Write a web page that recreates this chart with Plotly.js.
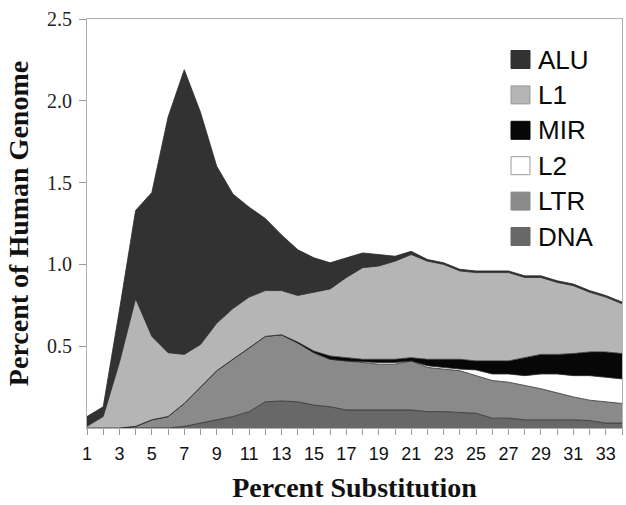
<!DOCTYPE html>
<html>
<head>
<meta charset="utf-8">
<script src="https://cdn.plot.ly/plotly-3.0.1.min.js"></script>
<style>html,body{margin:0;padding:0;background:#fff;}#chart{width:626px;height:505px;}</style>
</head>
<body>
<div id="chart"></div>
<script>
// Percent substitution (x categories)
var substitution = [1,2,3,4,5,6,7,8,9,10,11,12,13,14,15,16,17,18,19,20,21,22,23,24,25,26,27,28,29,30,31,32,33,34];
var xTickLabels = ["1","","3","","5","","7","","9","","11","","13","","15","","17","","19","","21","","23","","25","","27","","29","","31","","33",""];

// Percent of human genome per repeat family (stacked, bottom to top)
var DNA = [0,0,0,0,0,0,0.01,0.03,0.05,0.07,0.10,0.16,0.165,0.16,0.14,0.13,0.11,0.11,0.11,0.11,0.11,0.10,0.10,0.095,0.09,0.06,0.06,0.05,0.05,0.05,0.05,0.045,0.03,0.03];
var LTR = [0,0,0,0.01,0.05,0.07,0.14,0.22,0.30,0.35,0.39,0.40,0.405,0.36,0.32,0.29,0.30,0.29,0.28,0.28,0.30,0.27,0.26,0.255,0.23,0.23,0.22,0.21,0.19,0.165,0.14,0.125,0.13,0.12];
var L2  = [0,0,0,0,0,0,0,0,0,0,0,0,0,0,0,0,0,0.005,0.01,0.01,0,0.01,0.01,0.01,0.035,0.04,0.05,0.06,0.09,0.115,0.13,0.15,0.15,0.15];
var MIR = [0,0,0,0,0,0,0,0,0,0,0,0,0,0.005,0.01,0.02,0.02,0.015,0.02,0.02,0.02,0.04,0.05,0.06,0.055,0.08,0.08,0.11,0.12,0.12,0.135,0.145,0.155,0.155];
var L1  = [0.01,0.07,0.40,0.78,0.51,0.39,0.30,0.26,0.29,0.31,0.31,0.28,0.27,0.285,0.36,0.41,0.49,0.56,0.57,0.60,0.63,0.60,0.58,0.54,0.54,0.54,0.54,0.49,0.47,0.44,0.415,0.365,0.335,0.305];
var ALU = [0.06,0.06,0.32,0.54,0.88,1.44,1.74,1.42,0.96,0.70,0.55,0.44,0.34,0.28,0.21,0.16,0.12,0.09,0.07,0.03,0.02,0.01,0.01,0.01,0.01,0.01,0.01,0.01,0.01,0.01,0.01,0.01,0.01,0.01];

var yTickVals = [0.5,1.0,1.5,2.0,2.5];
var yTickText = ["0.5","1.0","1.5","2.0","2.5"];

var legendNames = ["ALU","L1","MIR","L2","LTR","DNA"];
var colors = {ALU:"#323232", L1:"#b5b5b5", MIR:"#070707", L2:"#ffffff", LTR:"#8a8a8a", DNA:"#686868"};

var series = [["DNA",DNA],["LTR",LTR],["L2",L2],["MIR",MIR],["L1",L1],["ALU",ALU]];
var traces = series.map(function(s){
  return {
    x: substitution, y: s[1], name: s[0], type: "scatter", mode: "lines",
    stackgroup: "one", fillcolor: colors[s[0]],
    line: {color: "#2a2a2a", width: 0.8},
    showlegend: false, hoverinfo: "x+y+name"
  };
});

// plot area in pixels
var L = 87, R = 622, T = 19, B = 428;
function px(x){ return (x - L) / (R - L); }
function py(y){ return (B - y) / (B - T); }

var shapes = [], annotations = [];
var rowY0 = 59.5, rowStep = 35.4;
legendNames.forEach(function(n, i){
  var cy = rowY0 + i * rowStep;
  shapes.push({type:"rect", xref:"paper", yref:"paper",
    x0: px(511), x1: px(530), y0: py(cy - 9), y1: py(cy + 9),
    fillcolor: colors[n], line:{color: n === "L2" || n === "L1" ? "#9a9a9a" : colors[n], width: 1}});
  annotations.push({xref:"paper", yref:"paper", x: px(536), y: py(cy),
    xanchor:"left", yanchor:"middle", text: n, showarrow:false,
    font:{family:"Liberation Sans, Arial, sans-serif", size:26, color:"#0a0a0a"}});
});

var layout = {
  width: 626, height: 505,
  margin: {l: L, r: 626 - R, t: T, b: 505 - B, pad: 0},
  paper_bgcolor: "#fff", plot_bgcolor: "#fff",
  showlegend: false,
  xaxis: {
    range: [1, 34], tickmode: "array", tickvals: substitution, ticktext: xTickLabels,
    ticks: "outside", ticklen: 6, tickcolor: "#9a9a9a", tickwidth: 1,
    showgrid: false, zeroline: false, showline: true, linecolor: "#b0b0b0", linewidth: 1, mirror: true,
    tickangle: 0, ticklabelstandoff: 3,
    tickfont: {family: "Liberation Sans, Arial, sans-serif", size: 18, color: "#111"},
    title: {text: "Percent Substitution", standoff: 14,
      font: {family: "Liberation Serif, Times New Roman, serif", size: 28, color: "#111", weight: "bold"}}
  },
  yaxis: {
    range: [0, 2.5], tickmode: "array", tickvals: yTickVals, ticktext: yTickText,
    ticks: "outside", ticklen: 7, tickcolor: "#9a9a9a", tickwidth: 1,
    showgrid: false, zeroline: false, showline: true, linecolor: "#b0b0b0", linewidth: 1, mirror: true,
    ticklabelstandoff: 3,
    tickfont: {family: "Liberation Serif, Times New Roman, serif", size: 20, color: "#222"},
    title: {text: "Percent of Human Genome", standoff: 10,
      font: {family: "Liberation Serif, Times New Roman, serif", size: 28, color: "#111", weight: "bold"}}
  },
  shapes: shapes,
  annotations: annotations
};

Plotly.newPlot("chart", traces, layout, {staticPlot: true, displayModeBar: false});
</script>
</body>
</html>
